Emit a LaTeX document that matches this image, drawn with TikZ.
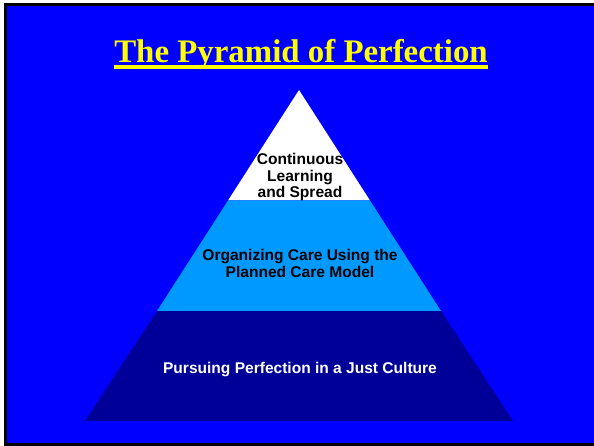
\documentclass[tikz,border=0pt]{standalone}
\usepackage{fontspec}
\setmainfont{Liberation Serif}
\setsansfont{Liberation Sans}
\usepackage{xcolor}
\usepackage{tikz}
\usetikzlibrary{positioning}

\definecolor{slideblue}{RGB}{0,0,255}
\definecolor{planblue}{RGB}{0,153,255}
\definecolor{justblue}{RGB}{0,0,153}
\definecolor{titleyellow}{RGB}{255,255,0}

\begin{document}
\begin{tikzpicture}[x=1bp,y=-1bp]
      \tikzstyle{layer}=[draw=none]
      \tikzstyle{layer_text}=[font=\sffamily\bfseries\fontsize{15.6}{16.6}\selectfont, align=center, inner sep=0pt]
      \tikzstyle{title_text}=[font=\rmfamily\bfseries\fontsize{33}{38}\selectfont, text=titleyellow, inner sep=0pt, anchor=base]

      \useasboundingbox (0,0) rectangle (594,446);
      \fill [slideblue] (4,4) rectangle (594,444);
      \draw [line width=3bp] (594,4.5) -- (5.5,4.5) -- (5.5,444.5) -- (594,444.5);

      % title
      \node [title_text] (title) at (301,62.5) {The Pyramid of Perfection};
      \draw [titleyellow, line width=3.6bp] (title.base west) ++(0,4.5) -- ([yshift=-4.5bp]title.base east);

      % pyramid corners
      \coordinate (apex) at (299,90);
      \coordinate (top-l) at (228,200.5);
      \coordinate (top-r) at (370,200.5);
      \coordinate (mid-l) at (157,311);
      \coordinate (mid-r) at (441,311);
      \coordinate (base-l) at (85,421);
      \coordinate (base-r) at (513,421);

      \fill [layer, white] (apex) -- (top-r) -- (top-l) -- cycle;
      \fill [layer, planblue] (top-l) -- (top-r) -- (mid-r) -- (mid-l) -- cycle;
      \fill [layer, justblue] (mid-l) -- (mid-r) -- (base-r) -- (base-l) -- cycle;

      \node [layer_text, text=black] (learning) at (300,177) {Continuous\\Learning\\and Spread};
      \node [layer_text, text=black] (planned) at (300,263.5) {Organizing Care Using the\\Planned Care Model};
      \node [layer_text, text=white] (culture) at (300,370) {Pursuing Perfection in a Just Culture};
    \end{tikzpicture}
\end{document}
